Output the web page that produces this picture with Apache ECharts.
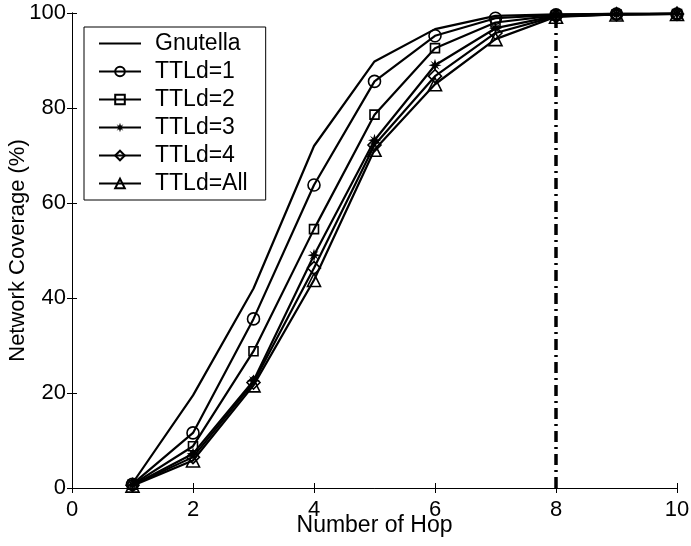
<!DOCTYPE html>
<html>
<head>
<meta charset="utf-8">
<script src="https://cdn.jsdelivr.net/npm/echarts@6/dist/echarts.min.js"></script>
<style>
  html, body { margin: 0; padding: 0; background: #fff; }
  #main { width: 691px; height: 546px; }
</style>
</head>
<body>
<div id="main"></div>
<script>
// hop counts and coverage (%)
var hops = [1, 2, 3, 4, 5, 6, 7, 8, 9, 10]
var gnutella = [1.0, 19.5, 42.0, 72.0, 89.8, 96.6, 99.4, 99.7, 99.8, 99.8]
var ttl1 = [0.8, 11.6, 35.6, 63.8, 85.6, 95.2, 98.9, 99.6, 99.8, 99.8]
var ttl2 = [0.7, 8.8, 28.8, 54.5, 78.6, 92.6, 98.0, 99.5, 99.7, 99.8]
var ttl3 = [0.6, 7.2, 22.6, 49.0, 73.2, 89.0, 96.8, 99.4, 99.7, 99.8]
var ttl4 = [0.6, 6.5, 22.2, 46.3, 72.2, 86.7, 95.8, 99.3, 99.7, 99.8]
var ttlAll = [0.5, 5.8, 21.6, 43.8, 71.2, 85.0, 94.5, 99.2, 99.7, 99.8]
var cutLine = [[8, 0], [8, 100]]
var legendNames = ['Gnutella', 'TTLd=1', 'TTLd=2', 'TTLd=3', 'TTLd=4', 'TTLd=All']

var font = 'Liberation Sans, Arial, sans-serif'
// bold asterisk, drawn as a filled 8-arm star
var starPath = 'path://M50,0 L60,32 L85,15 L68,40 L100,50 L68,60 L85,85 L60,68 L50,100 L40,68 L15,85 L32,60 L0,50 L32,40 L15,15 L40,32 Z'
// plain line for the Gnutella legend entry (no marker)
var lineIcon = 'path://M0,0 L0,0 M0,9.5 L100,9.5 L100,14.5 L0,14.5 Z M0,24 L0,24'

function pairs(arr) {
  return hops.map(function (h, i) { return [h, arr[i]] })
}

function mk(name, data, symbol, size, filled) {
  return {
    name: name,
    type: 'line',
    data: pairs(data),
    symbol: symbol,
    symbolSize: size,
    showSymbol: symbol !== 'none',
    lineStyle: { color: '#000', width: 2.2 },
    itemStyle: {
      color: filled ? '#000' : 'rgba(0,0,0,0)',
      borderColor: '#000',
      borderWidth: filled ? 0 : 1.6
    },
    emphasis: { disabled: true },
    z: 3
  }
}

var myChart = echarts.init(document.getElementById('main'))
myChart.setOption({
  animation: false,
  grid: { left: 72, right: 14, top: 13, bottom: 58, outerBoundsMode: 'none', containLabel: false },
  legend: {
    orient: 'vertical',
    left: 84,
    top: 27,
    padding: [5, 18, 5, 14],
    borderColor: '#000',
    borderWidth: 1,
    borderRadius: 0,
    backgroundColor: '#fff',
    itemWidth: 42,
    itemHeight: 12,
    itemGap: 5,
    textStyle: { fontFamily: font, fontSize: 23, color: '#000', padding: [0, 0, 0, 9] },
    data: legendNames.map(function (n) {
      return n === 'Gnutella' ? { name: n, icon: lineIcon } : { name: n }
    })
  },
  xAxis: [
    {
      type: 'value', min: 0, max: 10, interval: 2,
      name: 'Number of Hop', nameLocation: 'middle', nameGap: 26, nameMoveOverlap: false,
      nameTextStyle: { fontFamily: font, fontSize: 23, color: '#000' },
      axisLine: { lineStyle: { color: '#000', width: 1 } },
      axisTick: { inside: true, length: 5, lineStyle: { color: '#000' } },
      axisLabel: { fontFamily: font, fontSize: 22, color: '#000', margin: 11 },
      splitLine: { show: false }
    },
    {
      type: 'value', min: 0, max: 10, interval: 2, position: 'top',
      axisLine: { show: true, lineStyle: { color: '#000', width: 1 } },
      axisTick: { show: true, inside: true, length: 5, lineStyle: { color: '#000' } },
      axisLabel: { show: false },
      splitLine: { show: false }
    }
  ],
  yAxis: [
    {
      type: 'value', min: 0, max: 100, interval: 20,
      name: 'Network Coverage (%)', nameLocation: 'middle', nameGap: 43, nameMoveOverlap: false,
      nameTextStyle: { fontFamily: font, fontSize: 22, color: '#000' },
      axisLine: { show: true, lineStyle: { color: '#000', width: 1 } },
      axisTick: { show: true, inside: true, length: 5, lineStyle: { color: '#000' } },
      axisLabel: { fontFamily: font, fontSize: 22, color: '#000', margin: 6 },
      splitLine: { show: false }
    },
    {
      type: 'value', min: 0, max: 100, interval: 20, position: 'right',
      axisLine: { show: true, lineStyle: { color: '#000', width: 1 } },
      axisTick: { show: true, inside: true, length: 5, lineStyle: { color: '#000' } },
      axisLabel: { show: false },
      splitLine: { show: false }
    }
  ],
  series: [
    {
      name: 'cut',
      type: 'line',
      data: cutLine,
      symbol: 'none',
      lineStyle: { color: '#000', width: 3.5, type: [11, 5, 2, 5] },
      emphasis: { disabled: true },
      z: 2
    },
    mk('Gnutella', gnutella, 'none', 0, true),
    mk('TTLd=1', ttl1, 'circle', 12, false),
    mk('TTLd=2', ttl2, 'rect', 9, false),
    mk('TTLd=3', ttl3, starPath, 13, true),
    mk('TTLd=4', ttl4, 'diamond', 13, false),
    mk('TTLd=All', ttlAll, 'triangle', 13, false)
  ]
})
</script>
</body>
</html>
